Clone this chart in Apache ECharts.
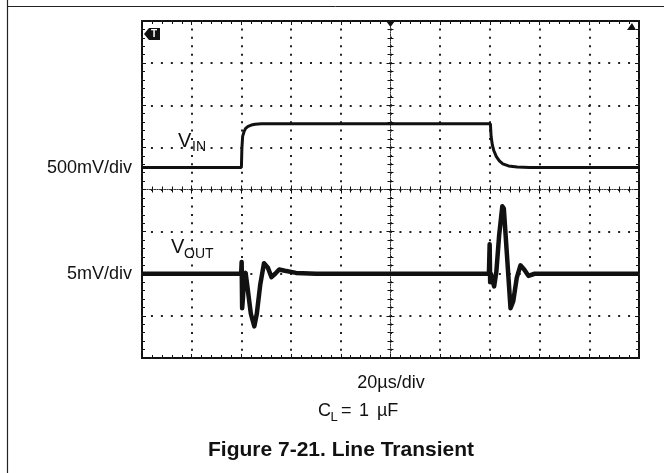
<!DOCTYPE html>
<html>
<head>
<meta charset="utf-8">
<script src="https://cdn.jsdelivr.net/npm/echarts@6/dist/echarts.min.js"></script>
<style>
html,body{margin:0;padding:0;background:#fff;}
#main{width:664px;height:473px;}
</style>
</head>
<body>
<div id="main"></div>
<script>
// scope capture: time in µs (20 µs/div), trace position in divisions from screen centre
const vinT  = [-100, -60.0, -59.8, -59.5, -58.9, -58.3, -57.3, -56.0, -54.5, -52.0, -48.0, 40.2, 40.5, 41.0, 41.6, 42.6, 43.8, 45.2, 47.5, 51.0, 56.0, 100];
const vinY  = [0.525, 0.525, 0.98, 1.26, 1.38, 1.45, 1.50, 1.53, 1.55, 1.56, 1.56, 1.56, 1.25, 1.05, 0.92, 0.78, 0.68, 0.61, 0.56, 0.535, 0.525, 0.525];
const voutT = [-100, -60.1, -59.9, -59.7, -59.4, -58.9, -58.3, -57.6, -56.2, -54.8, -53.8, -52.4, -50.9, -49.4, -47.9, -46.4, -44.8, -42.5, -38.0, -30.0,
               39.6, 39.9, 40.1, 40.4, 41.0, 41.7, 42.6, 43.7, 45.0, 45.6, 46.8, 48.3, 49.4, 50.8, 52.3, 53.8, 55.5, 58.0, 100];
const voutY = [-2.0, -2.0, -1.72, -2.82, -2.6, -2.05, -1.98, -2.3, -2.95, -3.25, -2.95, -2.25, -1.75, -1.85, -2.08, -2.0, -1.9, -1.93, -1.98, -2.0,
               -2.0, -1.3, -2.2, -2.0, -2.15, -2.3, -1.95, -1.1, -0.4, -0.45, -1.5, -2.82, -2.65, -2.1, -1.8, -1.9, -2.05, -2.0, -2.0];
const tMin = -100, tMax = 100, tStep = 20;   // 10 divisions
const dMin = -4, dMax = 4, dStep = 1;        // 8 divisions

const ink = '#111';
const font = '"Liberation Sans", Arial, sans-serif';

const chart = echarts.init(document.getElementById('main'));

function tickAxis(kind, pos, onZero, extra) {
    const ax = {
        type: 'value',
        position: pos,
        min: kind === 'x' ? tMin : dMin,
        max: kind === 'x' ? tMax : dMax,
        interval: kind === 'x' ? tStep : dStep,
        axisLine: {show: false, onZero: onZero, onZeroAxisIndex: 0},
        axisTick: {show: true, inside: true, length: 4, lineStyle: {color: ink, width: 1}},
        minorTick: {show: true, splitNumber: 5, length: 3, lineStyle: {color: ink, width: 1}},
        axisLabel: {show: false},
        splitLine: {show: false}
    };
    return Object.assign(ax, extra || {});
}

const centreLine = {show: true, onZero: true, onZeroAxisIndex: 0, lineStyle: {color: '#333', width: 1, type: [1, 1.5]}};

const option = {
    animation: false,
    backgroundColor: '#fff',
    grid: {left: 142, top: 21, width: 497, height: 337, show: true, borderColor: ink, borderWidth: 2, backgroundColor: 'transparent'},
    xAxis: [
        tickAxis('x', 'bottom', false, {splitLine: {show: true, lineStyle: {color: '#222', width: 2, type: [2, 6.43], dashOffset: 1}}}),
        tickAxis('x', 'top', false),
        tickAxis('x', 'bottom', true, {axisLine: centreLine}),
        tickAxis('x', 'top', true, {axisLine: centreLine})
    ],
    yAxis: [
        tickAxis('y', 'left', false, {splitLine: {show: true, lineStyle: {color: '#222', width: 2, type: [2, 7.94], dashOffset: 1}}}),
        tickAxis('y', 'right', false),
        tickAxis('y', 'left', true, {axisLine: centreLine}),
        tickAxis('y', 'right', true, {axisLine: centreLine})
    ],
    series: [
        {
            name: 'VIN', type: 'line', xAxisIndex: 0, yAxisIndex: 0,
            data: vinT.map((t, i) => [t, vinY[i]]),
            showSymbol: false, symbol: 'none',
            lineStyle: {color: ink, width: 3},
            z: 5
        },
        {
            name: 'VOUT', type: 'line', xAxisIndex: 0, yAxisIndex: 0,
            data: voutT.map((t, i) => [t, voutY[i]]),
            showSymbol: false, symbol: 'none',
            lineStyle: {color: ink, width: 4.5, join: 'round'},
            z: 5
        }
    ],
    graphic: [
        // page frame
        {type: 'line', shape: {x1: 7.5, y1: 0, x2: 7.5, y2: 473}, style: {stroke: '#222', lineWidth: 1.2}},
        {type: 'line', shape: {x1: 7, y1: 6.5, x2: 664, y2: 6.5}, style: {stroke: '#222', lineWidth: 1}},
        // scope markers
        {type: 'polygon', shape: {points: [[144, 34], [149, 28], [160, 28], [160, 40], [149, 40]]}, style: {fill: ink}, z: 10},
        {type: 'text', x: 154, y: 34.5, style: {text: 'T', font: 'bold 10px ' + font, fill: '#fff', textAlign: 'center', textVerticalAlign: 'middle', align: 'center', verticalAlign: 'middle'}, z: 11},
        {type: 'polygon', shape: {points: [[386, 21], [395, 21], [390.5, 27]]}, style: {fill: ink}, z: 10},
        {type: 'polygon', shape: {points: [[627, 30], [636, 30], [632, 23]]}, style: {fill: ink}, z: 10},
        // trace labels
        {type: 'text', x: 178, y: 141.5, style: {text: 'V', font: '20px ' + font, fill: ink, textAlign: 'left', textVerticalAlign: 'middle', align: 'left', verticalAlign: 'middle'}},
        {type: 'text', x: 192, y: 147, style: {text: 'IN', font: '14px ' + font, fill: ink, textAlign: 'left', textVerticalAlign: 'middle', align: 'left', verticalAlign: 'middle'}},
        {type: 'text', x: 171, y: 247, style: {text: 'V', font: '20px ' + font, fill: ink, textAlign: 'left', textVerticalAlign: 'middle', align: 'left', verticalAlign: 'middle'}},
        {type: 'text', x: 184, y: 254, style: {text: 'OUT', font: '14px ' + font, fill: ink, textAlign: 'left', textVerticalAlign: 'middle', align: 'left', verticalAlign: 'middle'}},
        // scale labels
        {type: 'text', x: 132, y: 168, style: {text: '500mV/div', font: '18px ' + font, fill: ink, textAlign: 'right', textVerticalAlign: 'middle', align: 'right', verticalAlign: 'middle'}},
        {type: 'text', x: 132, y: 274, style: {text: '5mV/div', font: '18px ' + font, fill: ink, textAlign: 'right', textVerticalAlign: 'middle', align: 'right', verticalAlign: 'middle'}},
        {type: 'text', x: 391, y: 383, style: {text: '20µs/div', font: '18px ' + font, fill: ink, textAlign: 'center', textVerticalAlign: 'middle', align: 'center', verticalAlign: 'middle'}},
        // load condition
        {type: 'text', x: 318, y: 411, style: {text: 'C', font: '18px ' + font, fill: ink, textAlign: 'left', textVerticalAlign: 'middle', align: 'left', verticalAlign: 'middle'}},
        {type: 'text', x: 330.5, y: 417, style: {text: 'L', font: '13px ' + font, fill: ink, textAlign: 'left', textVerticalAlign: 'middle', align: 'left', verticalAlign: 'middle'}},
        {type: 'text', x: 341, y: 411, style: {text: '=', font: '18px ' + font, fill: ink, textAlign: 'left', textVerticalAlign: 'middle', align: 'left', verticalAlign: 'middle'}},
        {type: 'text', x: 359, y: 411, style: {text: '1', font: '18px ' + font, fill: ink, textAlign: 'left', textVerticalAlign: 'middle', align: 'left', verticalAlign: 'middle'}},
        {type: 'text', x: 377, y: 411, style: {text: 'µF', font: '18px ' + font, fill: ink, textAlign: 'left', textVerticalAlign: 'middle', align: 'left', verticalAlign: 'middle'}},
        // caption
        {type: 'text', x: 341, y: 450.5, style: {text: 'Figure 7-21. Line Transient', font: 'bold 21px ' + font, fill: ink, textAlign: 'center', textVerticalAlign: 'middle', align: 'center', verticalAlign: 'middle'}}
    ]
};

chart.setOption(option);
</script>
</body>
</html>
